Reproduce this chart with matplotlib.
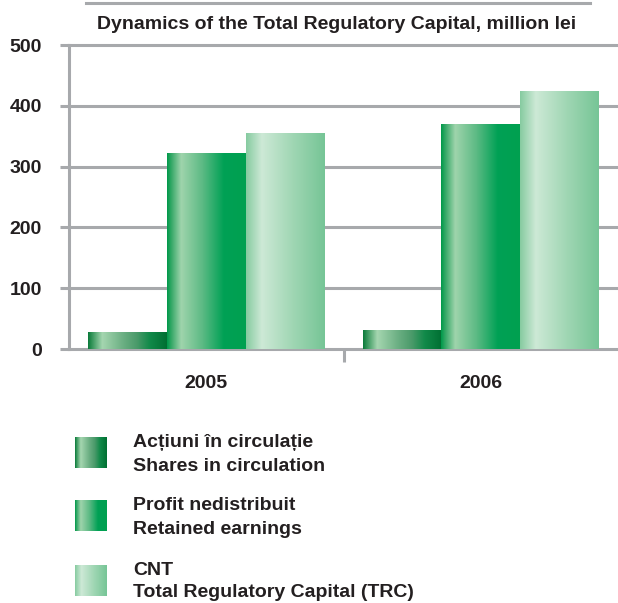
import matplotlib.pyplot as plt
import numpy as np
from matplotlib.colors import LinearSegmentedColormap
from matplotlib.lines import Line2D

plt.rcParams['font.family'] = ['Liberation Sans', 'DejaVu Sans']
plt.rcParams['font.weight'] = 'bold'

years = ['2005', '2006']
shares = [28, 31]
retained = [322, 370]
trc = [356, 424]
yticks = [0, 100, 200, 300, 400, 500]

title = "Dynamics of the Total Regulatory Capital, million lei"
legend_ro = ["Acțiuni în circulație", "Profit nedistribuit", "CNT"]
legend_en = ["Shares in circulation", "Retained earnings", "Total Regulatory Capital (TRC)"]

grey = '#a7a9ac'
txt = '#231f20'

# horizontal gradients of the bars (left -> right)
grads = [
    [(0, '#0a7a3a'), (0.06, '#3d9a60'), (0.18, '#a5d6b0'), (0.45, '#6aae82'),
     (0.62, '#4a9a6a'), (0.78, '#128a4a'), (1, '#006f32')],
    [(0, '#00994a'), (0.06, '#3aaa6a'), (0.18, '#9fd4ac'), (0.45, '#5cba84'),
     (0.72, '#00a155'), (1, '#00a050')],
    [(0, '#86cba0'), (0.2, '#cde9d6'), (0.6, '#9fd6b3'), (1, '#76c596')],
]
cmaps = [LinearSegmentedColormap.from_list('g%d' % i, g) for i, g in enumerate(grads)]
grad_img = np.linspace(0, 1, 256).reshape(1, -1)

W, H = 618, 603
fig = plt.figure(figsize=(W / 100, H / 100), dpi=100)
ax = fig.add_axes([69 / W, (H - 349) / H, (W - 69) / W, (349 - 45) / H])
ax.set_xlim(-0.5, 1.5)
ax.set_ylim(0, 500)

for y in yticks:
    ax.axhline(y, color=grey, lw=2.2, zorder=0, clip_on=False)

x = np.arange(len(years))
w = 0.286
for i, vals in enumerate([shares, retained, trc]):
    bars = ax.bar(x + (i - 1) * w, vals, w, color='none', zorder=2)
    for b in bars:
        x0, y0 = b.get_x(), b.get_y()
        im = ax.imshow(grad_img, cmap=cmaps[i], aspect='auto', zorder=2,
                       extent=[x0, x0 + b.get_width(), y0, y0 + b.get_height()])
        im.set_clip_path(b)

ax.set_xlim(-0.5, 1.5)
ax.set_ylim(0, 500)

for s in ['top', 'right', 'bottom']:
    ax.spines[s].set_visible(False)
ax.spines['left'].set_color(grey)
ax.spines['left'].set_linewidth(2.2)

ax.set_yticks(yticks)
ax.set_yticklabels([str(v) for v in yticks])
ax.tick_params(axis='y', length=6.5, width=2.2, color=grey, pad=13,
               labelsize=14, labelcolor=txt)
ax.set_xticks(x)
ax.set_xticklabels(years)
ax.set_xticks([0.5], minor=True)
ax.tick_params(axis='x', which='major', length=0, pad=19, labelsize=14, labelcolor=txt)
ax.tick_params(axis='x', which='minor', length=9.5, width=2.2, color=grey)

# title with line above
fig.text(336.5 / W, (H - 29.3) / H, title, ha='center', va='baseline',
         fontsize=14, color=txt)
fig.add_artist(Line2D([86 / W, 590 / W], [(H - 3) / H] * 2, color=grey, lw=2.2))

# legend
sw_top = [437, 500, 565]
base1 = [446.7, 510, 575]
base2 = [470.7, 534.3, 596.7]
for i in range(3):
    sax = fig.add_axes([75 / W, (H - sw_top[i] - 31) / H, 31 / W, 31 / H])
    sax.imshow(grad_img, cmap=cmaps[i], aspect='auto')
    sax.axis('off')
    fig.text(133 / W, (H - base1[i]) / H, legend_ro[i], va='baseline',
             fontsize=14, color=txt)
    fig.text(133 / W, (H - base2[i]) / H, legend_en[i], va='baseline',
             fontsize=14, color=txt)

fig.savefig('out.png', dpi=100)
